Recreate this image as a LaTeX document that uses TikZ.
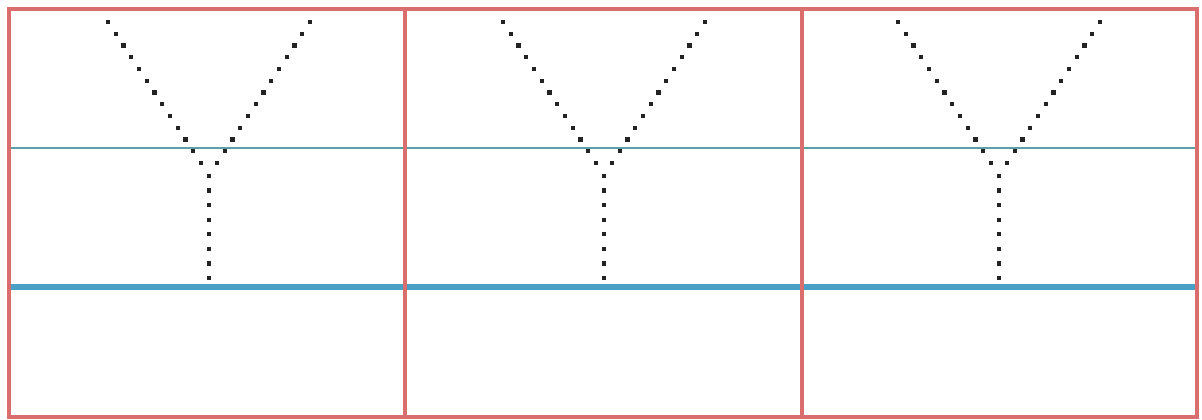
\documentclass[tikz,border=0pt]{standalone}
\usetikzlibrary{calc}
\definecolor{frame}{RGB}{218,110,110}
\definecolor{thinline}{RGB}{90,160,170}
\definecolor{thickline}{RGB}{72,160,196}
\definecolor{dotcol}{RGB}{35,35,35}
\tikzset{
  panelframe/.style={draw=frame,line width=3.2pt},
  thinrule/.style={draw=thinline,line width=1.5pt},
  thickrule/.style={draw=thickline,line width=5.5pt},
  dotsq/.style={fill=dotcol},
}
\newcommand{\dotline}[3]{% from, to, number of intervals
  \foreach \t in {0,...,#3}{
    \fill[dotsq] ($(#1)!\t/#3!(#2)$) ++(-2.1,-2.1) rectangle ++(4.2,4.2);
  }
}
\begin{document}
\begin{tikzpicture}[x=1pt,y=-1pt]
\useasboundingbox (0,0) rectangle (1202,420);
\fill[white] (0,0) rectangle (1202,420);
% rules
\draw[thinrule] (9,148) -- (1197,148);
\draw[thickrule] (9,287) -- (1197,287);
% frames
\draw[panelframe] (9,9) rectangle (1197,417);
\draw[panelframe] (405,9) -- (405,417);
\draw[panelframe] (802,9) -- (802,417);
% Y shapes
\foreach \i/\dx in {1/0,2/395,3/790}{
  \coordinate (lt\i) at (108+\dx,22);
  \coordinate (rt\i) at (310+\dx,22);
  \coordinate (lb\i) at (201+\dx,163);
  \coordinate (rb\i) at (217+\dx,163);
  \coordinate (st\i) at (209+\dx,176);
  \coordinate (sb\i) at (209+\dx,278);
  \dotline{lt\i}{lb\i}{12}
  \dotline{rt\i}{rb\i}{12}
  \dotline{st\i}{sb\i}{7}
}
\end{tikzpicture}
\end{document}
